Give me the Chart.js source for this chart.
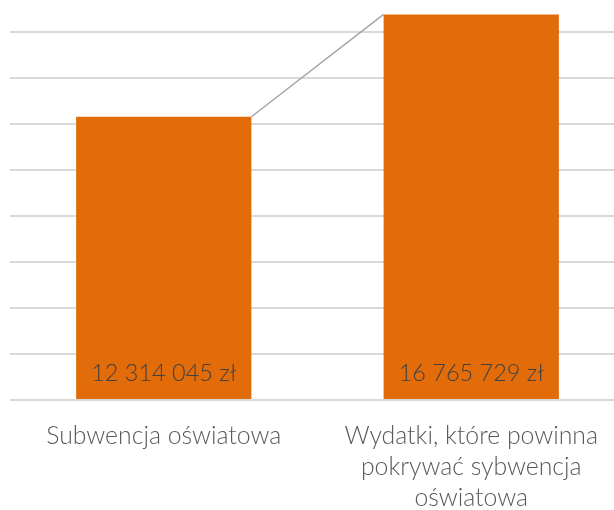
<!DOCTYPE html>
<html>
<head>
<meta charset="utf-8">
<script src="https://cdn.jsdelivr.net/npm/chart.js@4/dist/chart.umd.min.js"></script>
<style>
  html, body { margin: 0; padding: 0; background: #fff; overflow: hidden; }
  #wrap { position: absolute; left: 0; top: -14px; width: 640px; height: 530px; }
</style>
</head>
<body>
<div id="wrap"><canvas id="chart"></canvas></div>
<script>
const categories = [
  'Subwencja oświatowa',
  ['Wydatki, które powinna', 'pokrywać sybwencja', 'oświatowa']
];
const values = [12314045, 16765729];
const yMax = 18000000;
const yStep = 2000000;

const fmtZl = (v) => v.toString().replace(/\B(?=(\d{3})+(?!\d))/g, ' ') + ' zł';

// value labels near the bottom of each bar + Excel style series line between bar tops
const barExtras = {
  id: 'barExtras',
  afterDatasetsDraw(chart) {
    const ctx = chart.ctx;
    const meta = chart.getDatasetMeta(0);
    const base = chart.scales.y.getPixelForValue(0);
    ctx.save();
    for (let i = 0; i < meta.data.length - 1; i++) {
      const a = meta.data[i], b = meta.data[i + 1];
      ctx.beginPath();
      ctx.moveTo(a.x + a.width / 2, a.y);
      ctx.lineTo(b.x - b.width / 2, b.y);
      ctx.strokeStyle = '#A5A5A5';
      ctx.lineWidth = 1.5;
      ctx.stroke();
    }
    ctx.font = '300 23.5px Lato, "Open Sans", sans-serif';
    ctx.fillStyle = '#404040';
    ctx.textAlign = 'center';
    ctx.textBaseline = 'middle';
    meta.data.forEach((bar, i) => {
      ctx.fillText(fmtZl(values[i]), bar.x, base - 27);
    });
    ctx.restore();
  }
};

new Chart(document.getElementById('chart'), {
  type: 'bar',
  data: {
    labels: categories,
    datasets: [{
      data: values,
      backgroundColor: '#E36C0A',
      borderWidth: 0,
      categoryPercentage: 1,
      barPercentage: 0.57
    }]
  },
  options: {
    responsive: true,
    maintainAspectRatio: false,
    animation: false,
    layout: { padding: { left: 10, right: 15, top: 0, bottom: 0 } },
    plugins: { legend: { display: false }, tooltip: { enabled: false } },
    scales: {
      x: {
        grid: { display: false },
        border: { display: false },
        ticks: {
          color: '#595959',
          font: { family: 'Lato, "Open Sans", sans-serif', size: 24.8, weight: 300, lineHeight: 1.25 },
          padding: 13,
          maxRotation: 0,
          autoSkip: false
        },
        afterFit: (s) => { s.height = 116; }
      },
      y: {
        min: 0,
        max: yMax,
        ticks: { display: false, stepSize: yStep },
        grid: { color: '#D9D9D9', lineWidth: 2, drawTicks: false },
        border: { display: false },
        afterFit: (s) => { s.width = 0; }
      }
    }
  },
  plugins: [barExtras]
});
</script>
</body>
</html>
